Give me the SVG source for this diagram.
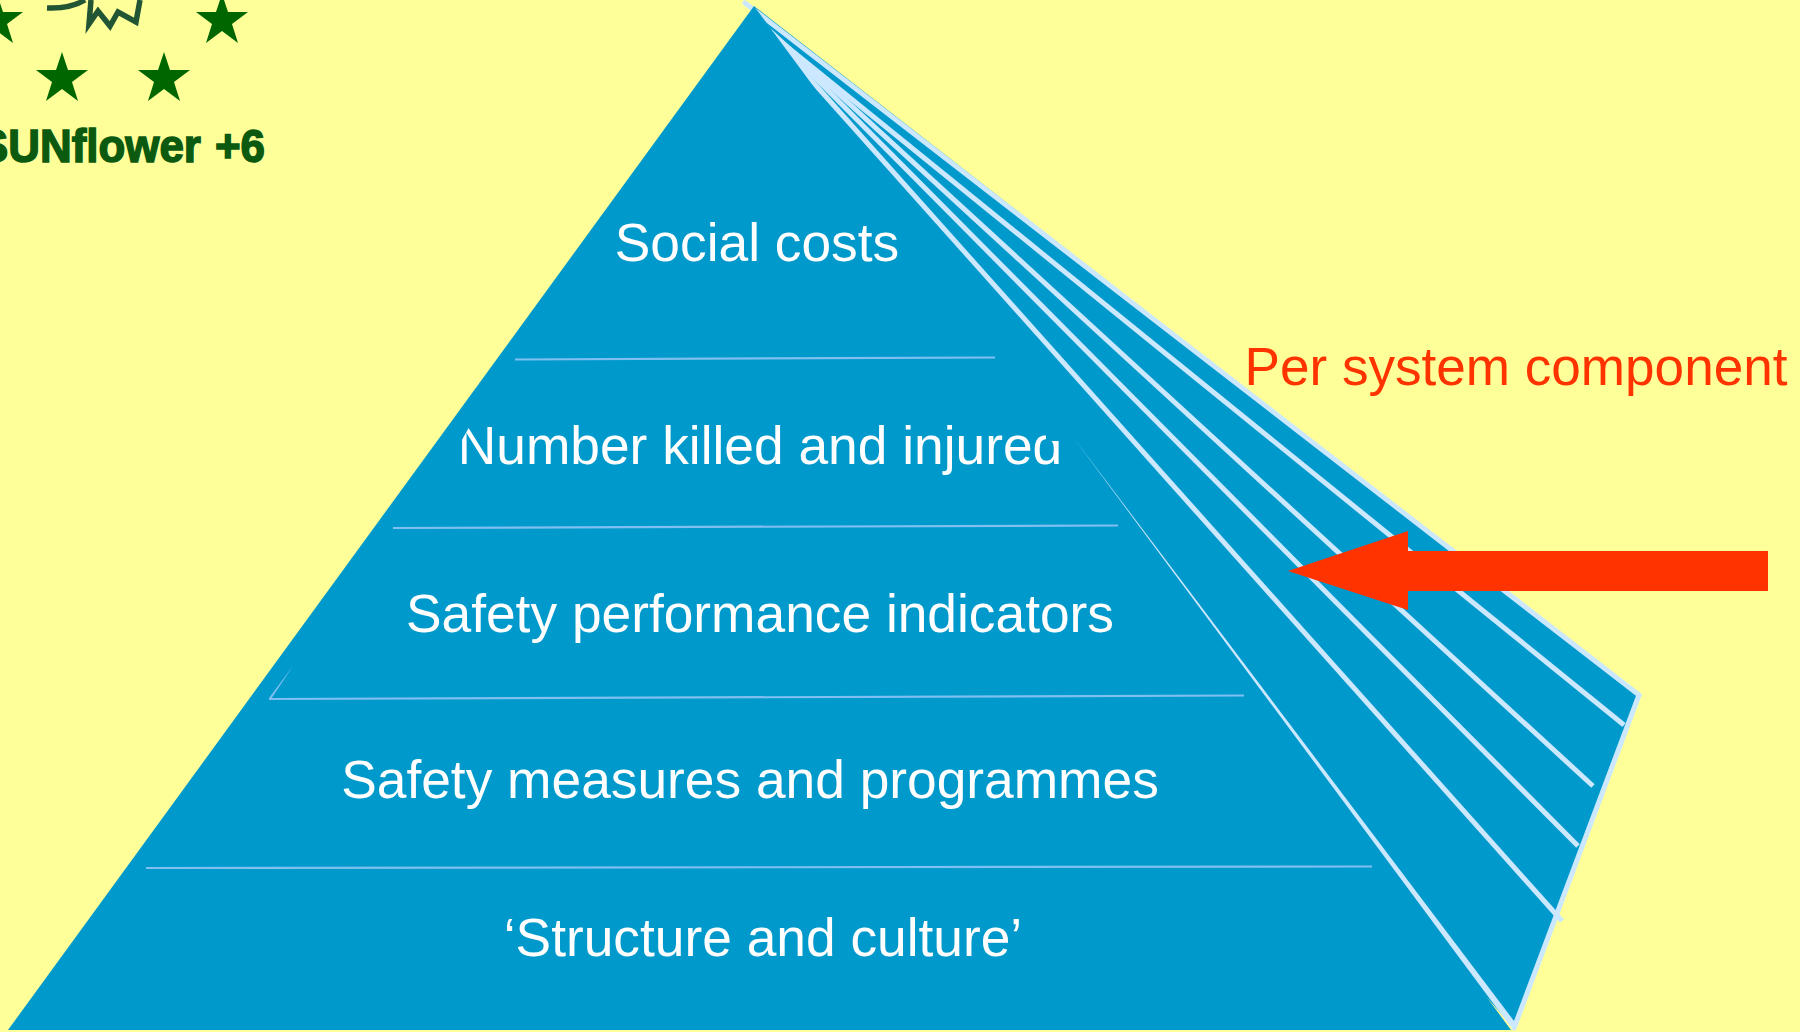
<svg xmlns="http://www.w3.org/2000/svg" width="1800" height="1032" viewBox="0 0 1800 1032">
<defs>
<style>
.w{font-family:"Liberation Sans",Arial,sans-serif;font-size:53.3px;fill:#fff;text-anchor:middle}
.e{fill:none;stroke:#cce8ff;stroke-width:5}
.h{fill:none;stroke:#80c0f0;stroke-width:2.2}
.s{fill:#006600}
.b{fill:#0099cc}
</style>
<polygon id="star" points="0,-25 6,-7 26,-7 10,5 16,24 0,12 -16,24 -10,5 -26,-7 -6,-7"/>
</defs>
<rect width="1800" height="1032" fill="#ffff99"/>
<g id="logo">
<use href="#star" class="s" x="-3" y="19"/>
<use href="#star" class="s" x="222" y="19"/>
<use href="#star" class="s" x="62" y="77"/>
<use href="#star" class="s" x="164" y="77"/>
<path d="M47,8 Q70,9 85,0 M91,0 L89,24 L98,11 L110,26 L118,12 L136,22 L140,0" fill="none" stroke="#225533" stroke-width="5.5"/>
<text x="-21" y="162" font-family="'Liberation Sans',Arial,sans-serif" font-size="46" font-weight="700" fill="#0b5a10" stroke="#0b5a10" stroke-width="1.5" word-spacing="2" textLength="286" lengthAdjust="spacingAndGlyphs">SUNflower +6</text>
</g>
<g id="pyramid">
<polygon class="b" points="754,6 1639,695 1513,1027 1400,900"/>
</g>
<g id="connectors">
<line class="e" stroke-linecap="round" x1="745" y1="3" x2="1639" y2="695"/>
<polyline class="e" stroke-linecap="round" points="1639,695 1514,1028"/>
<line class="e" x1="770" y1="33" x2="1624" y2="725"/>
<line class="e" x1="770" y1="31" x2="1593" y2="786"/>
<line class="e" x1="770" y1="32" x2="1578" y2="846"/>
<line class="e" x1="770" y1="34" x2="1562" y2="921"/>
</g>
<g id="front">
<polygon class="b" points="754,6 1511,1030 8,1030"/>
</g>
<g id="dividers">
<polygon fill="#cce8ff" points="1073,437 1510,1026 1516,1028 1514,1021"/>
<line class="h" x1="515" y1="359.5" x2="995" y2="357.5"/>
<line class="h" x1="393" y1="528" x2="1118" y2="525.5"/>
<line class="h" x1="269" y1="699" x2="1244" y2="695.5"/>
<polygon fill="#80c0f0" points="269,698 293,666 271,699"/>
<line class="h" x1="146" y1="868" x2="1372" y2="866.5"/>
<polygon fill="#ff3300" points="1288,571 1408,531 1408,551 1768,551 1768,591 1408,591 1408,610"/>
</g>
<g id="labels">
<text class="w" x="757" y="261">Social costs</text>
<text class="w" x="760" y="464">Number killed and injured</text>
<rect class="b" x="1046" y="420" width="20" height="21"/>
<polygon class="b" points="455,424 471,424 459,445 455,445"/>
<text class="w" x="760" y="632">Safety performance indicators</text>
<text class="w" x="750" y="798">Safety measures and programmes</text>
<text class="w" x="763" y="956">‘Structure and culture’</text>
<text x="1516" y="385" font-family="'Liberation Sans',Arial,sans-serif" font-size="53.1" fill="#ff3300" text-anchor="middle">Per system component</text>
</g>
</svg>
